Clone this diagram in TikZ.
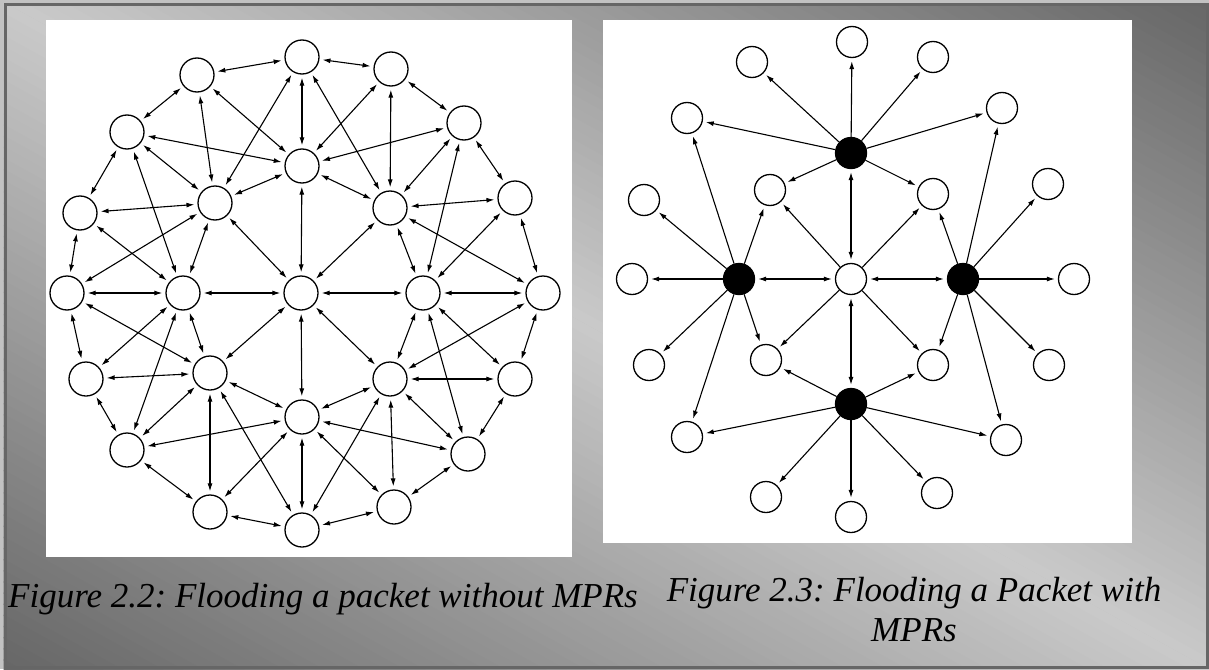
\documentclass[tikz,border=0pt]{standalone}
\usepackage{fontspec}
\setmainfont{Liberation Serif}
\usetikzlibrary{arrows.meta,calc}
\definecolor{glight}{HTML}{CACACA}
\definecolor{gdark}{HTML}{666666}
\definecolor{gmargin}{HTML}{C2C2C2}
\frenchspacing
\begin{document}
\begin{tikzpicture}[x=1pt,y=-1pt,
  nd/.style={circle,draw,line width=1.3pt,fill=white,inner sep=0pt,minimum size=34pt},
  nds/.style={nd,minimum size=31pt},
  mpr/.style={nds,fill=black},
  tip/.tip={Latex[length=8pt,width=5pt]},
  biarrow/.style={tip-tip,line width=1.1pt,shorten <=3pt,shorten >=3pt},
  onearrow/.style={-tip,line width=1.1pt,shorten >=3pt},
  capstyle/.style={font=\itshape\fontsize{35}{40}\selectfont,inner sep=0pt}]
\useasboundingbox (0,0) rectangle (1209,669);
% background
\fill[gmargin] (0,0) rectangle (1209,669);
\begin{scope}
\clip (3.5,3.5) rectangle (1209,669);
\foreach \i in {0,...,59}{
  \pgfmathsetmacro\da{\i*9.75}
  \pgfmathsetmacro\db{\da+10.75}
  \pgfmathsetmacro\p{(\i+0.5)*100/60}
  \fill[gdark!\p!glight] ({-270.32-0.48408*\da},{-149.58+0.87482*\da}) -- ({1479.32-0.48408*\da},{818.58+0.87482*\da}) -- ({1479.32-0.48408*\db},{818.58+0.87482*\db}) -- ({-270.32-0.48408*\db},{-149.58+0.87482*\db}) -- cycle;
  \fill[gdark!\p!glight] ({-270.32+0.48408*\da},{-149.58-0.87482*\da}) -- ({1479.32+0.48408*\da},{818.58-0.87482*\da}) -- ({1479.32+0.48408*\db},{818.58-0.87482*\db}) -- ({-270.32+0.48408*\db},{-149.58-0.87482*\db}) -- cycle;
}
\end{scope}
\draw[gdark,line width=3pt] (5,5) rectangle (1207.5,667.5);
% panels
\fill[white] (46,20) rectangle (572,557);
\fill[white] (603,20) rectangle (1132,543);
% ---------- left graph ----------
\node[nd] (C) at (301,293) {};
\foreach \n/\x/\y in {0/423/293,1/390/208,2/302/166,3/215/203,4/183/293,5/210/373,6/302/417,7/390/379}
  \node[nd] (I\n) at (\x,\y) {};
\foreach \n/\x/\y in {0/543/293,1/515/198,2/464/123,3/391/69,4/302/57,5/197/75,6/127/132,7/80/213,8/67/293,9/86/379,10/127/450,11/210/512,12/302/530,13/394/507,14/468/454,15/515/379}
  \node[nd] (O\n) at (\x,\y) {};
\foreach \k in {0,...,7}{
  \pgfmathtruncatemacro\kn{mod(\k+1,8)}
  \draw[biarrow] (C) -- (I\k);
  \draw[biarrow] (I\k) -- (I\kn);
  \foreach \j in {-2,...,2}{
    \pgfmathtruncatemacro\o{mod(2*\k+\j+16,16)}
    \draw[biarrow] (I\k) -- (O\o);
  }
}
\foreach \i in {0,...,15}{
  \pgfmathtruncatemacro\inx{mod(\i+1,16)}
  \draw[biarrow] (O\i) -- (O\inx);
}
% ---------- right graph ----------
\node[nds] (RC) at (851,279) {};
\node[mpr] (RN) at (851,153) {};
\node[mpr] (RW) at (739,279) {};
\node[mpr] (RE) at (963,279) {};
\node[mpr] (RS) at (851,404) {};
\foreach \n/\x/\y in {a/770/190,b/933/194,c/766/360,d/933/365,
  t/852/42,u1/752/62,u2/933/57,u3/687/118,u4/1002/108,u5/644/200,u6/1048/184,u7/632/279,
  u8/1074/279,u9/649/365,u10/1049/365,u11/687/437,u12/1006/440,u13/766/497,u14/937/493,u15/851/517}
  \node[nds] (R\n) at (\x,\y) {};
\foreach \m in {RN,RW,RE,RS} \draw[biarrow] (RC) -- (\m);
\foreach \t in {a,b,c,d} \draw[onearrow] (RC) -- (R\t);
\foreach \t in {t,u1,u2,u3,u4,a,b} \draw[onearrow] (RN) -- (R\t);
\foreach \t in {u3,u5,u7,u9,u11,a,c} \draw[onearrow] (RW) -- (R\t);
\foreach \t in {u4,u6,u8,u10,u12,b,d} \draw[onearrow] (RE) -- (R\t);
\foreach \t in {c,u11,u13,u15,u14,u12,d} \draw[onearrow] (RS) -- (R\t);
% ---------- captions ----------
\node[capstyle,anchor=base west] (cap1) at (8,607) {Figure 2.2: Flooding a packet without MPRs};
\node[capstyle,anchor=north,align=center] (cap2) at (914,577) {Figure 2.3: Flooding a Packet with\\MPRs};
\end{tikzpicture}
\end{document}
